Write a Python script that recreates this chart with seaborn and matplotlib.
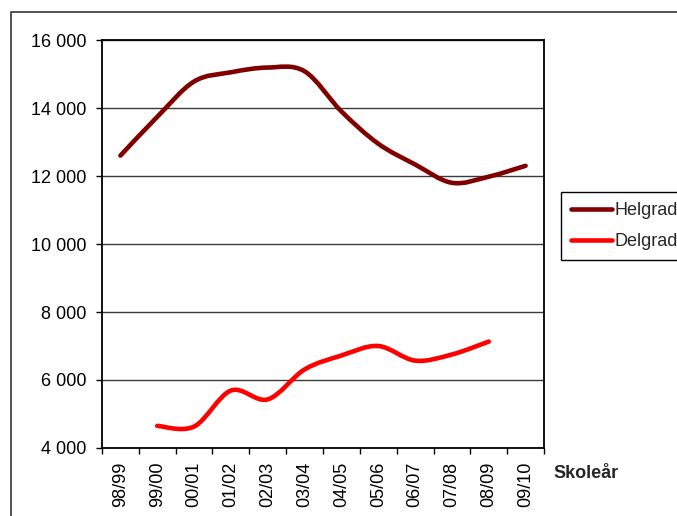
import numpy as np
import matplotlib
matplotlib.use('Agg')
import matplotlib.pyplot as plt
from matplotlib.path import Path
from matplotlib.patches import PathPatch
from matplotlib.lines import Line2D
from matplotlib.ticker import FuncFormatter, FixedLocator
import seaborn as sns

# skoleår og antall elever
years = ['98/99', '99/00', '00/01', '01/02', '02/03', '03/04',
         '04/05', '05/06', '06/07', '07/08', '08/09', '09/10']
helgrad = [12600, 13740, 14780, 15050, 15190, 15080,
           13900, 12950, 12340, 11800, 11980, 12300]
delgrad = [None, 4650, 4630, 5690, 5430, 6310,
           6720, 7000, 6570, 6750, 7130, None]
series = {'Helgrad': helgrad, 'Delgrad': delgrad}
colors = {'Helgrad': '#800000', 'Delgrad': '#FF0000'}

sns.set_theme(style='white')
plt.rcParams['font.family'] = ['Liberation Sans', 'DejaVu Sans']


def smooth_path(xs, ys):
    """Glatt kurve (Bezier) gjennom punktene, som i Excel"""
    pts = np.column_stack([xs, ys]).astype(float)
    n = len(pts)
    verts = [pts[0]]
    codes = [Path.MOVETO]
    for i in range(n - 1):
        p0 = pts[max(i - 1, 0)]
        p1 = pts[i]
        p2 = pts[i + 1]
        p3 = pts[min(i + 2, n - 1)]
        verts += [p1 + (p2 - p0) / 6, p2 - (p3 - p1) / 6, p2]
        codes += [Path.CURVE4] * 3
    return Path(verts, codes)


fig = plt.figure(figsize=(6.77, 5.16), dpi=100)
ax = fig.add_axes([102 / 677, 1 - 448 / 516, 442 / 677, 408 / 516])

xpos = np.arange(len(years))
for name, vals in series.items():
    idx = [i for i, v in enumerate(vals) if v is not None]
    path = smooth_path(xpos[idx], [vals[i] for i in idx])
    ax.add_patch(PathPatch(path, facecolor='none', edgecolor=colors[name],
                           lw=3.3, capstyle='round', joinstyle='round', zorder=3))

ax.set_xlim(-0.5, len(years) - 0.5)
ax.set_ylim(4000, 16000)
ax.set_yticks(np.arange(4000, 16001, 2000))
ax.yaxis.set_major_formatter(FuncFormatter(lambda v, p: f'{int(v):,}'.replace(',', ' ')))
ax.yaxis.grid(True, color='#3a3a3a', linewidth=1.0)
ax.set_axisbelow(True)

ax.set_xticks(xpos)
ax.set_xticklabels(years, rotation=90, va='top')
ax.xaxis.set_minor_locator(FixedLocator(np.arange(-0.5, len(years), 1.0)))
ax.tick_params(axis='x', which='major', length=0, pad=10, labelsize=13, colors='black')
ax.tick_params(axis='x', which='minor', length=4, width=1, color='black', direction='out', bottom=True)
ax.tick_params(axis='y', length=4.5, width=1, pad=7, labelsize=13, colors='black', direction='out', left=True)

for s in ax.spines.values():
    s.set_color('black')
    s.set_linewidth(1.3)
    s.set_visible(True)

fig.text(553 / 677, 1 - 473 / 516, 'Skoleår', fontsize=13, fontweight='bold',
         ha='left', va='center')

handles = [Line2D([], [], color=colors[n], lw=3.3) for n in series]
leg = fig.legend(handles, list(series.keys()), loc='upper left',
                 bbox_to_anchor=(561 / 677, 1 - 192 / 516),
                 bbox_transform=fig.transFigure, fontsize=13,
                 frameon=True, fancybox=False, framealpha=1, edgecolor='black',
                 handlelength=2.3, handletextpad=0.12, labelspacing=0.8,
                 borderpad=0.55, borderaxespad=0)
leg.get_frame().set_linewidth(1.0)

# ramme rundt hele diagrammet
fig.add_artist(Line2D([11 / 677, 11 / 677, 1], [0, 1 - 12 / 516, 1 - 12 / 516],
                      transform=fig.transFigure, color='#333333', lw=1.2))

fig.savefig('out.png', dpi=100)
